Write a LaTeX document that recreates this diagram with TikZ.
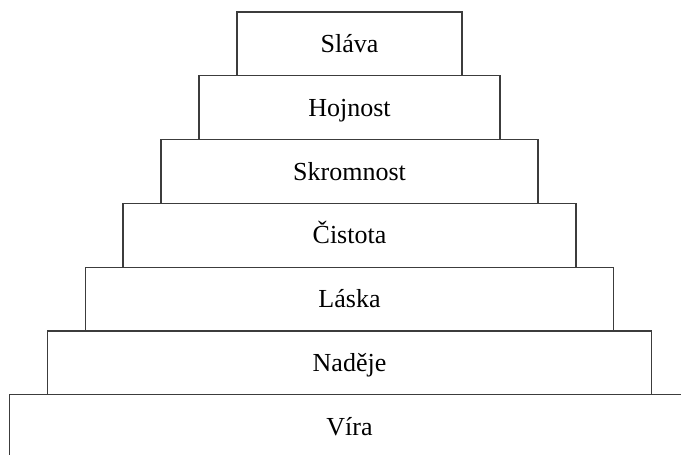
\documentclass[tikz,border=0pt]{standalone}
\usepackage{fontspec}
\setmainfont{Liberation Serif}
\usetikzlibrary{positioning}
\definecolor{tierLine}{RGB}{60,60,60}
\tikzset{tier/.style={draw=tierLine, line width=1.2pt, fill=white, align=center, minimum height=63.8pt, inner sep=0pt, outer sep=0pt, text height=20pt, text depth=3pt, font=\fontsize{26}{30}\selectfont}}

\begin{document}
\begin{tikzpicture}[x=1pt, y=1pt, node distance=0pt]
\clip (0,0) rectangle (681,-455);
% Nodes
\node (Slava) [tier, minimum width=225pt, anchor=north] at (349.5,-12) {Sláva};

\node (Hojnost) [tier, minimum width=301pt, below=of Slava] {Hojnost};

\node (Skromnost) [tier, minimum width=377pt, below=of Hojnost] {Skromnost};

\node (Cistota) [tier, minimum width=453pt, below=of Skromnost] {Čistota};

\node (Laska) [tier, minimum width=528pt, below=of Cistota] {Láska};

\node (Nadeje) [tier, minimum width=604pt, below=of Laska] {Naděje};

\node (Vira) [tier, minimum width=680pt, below=of Nadeje] {Víra};

\end{tikzpicture}
\end{document}
